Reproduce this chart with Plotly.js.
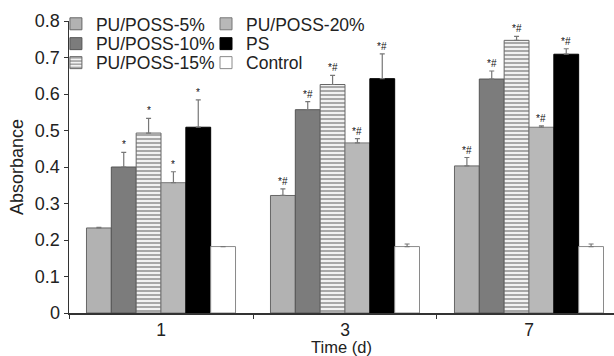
<!DOCTYPE html>
<html><head><meta charset="utf-8">
<script src="https://cdn.plot.ly/plotly-3.0.1.min.js"></script>
<style>html,body{margin:0;padding:0;background:#fff}#chart{width:614px;height:356px}</style>
</head><body><div id="chart"></div>
<script>
const days = ['1', '3', '7'];
const seriesNames = ['PU/POSS-5%', 'PU/POSS-10%', 'PU/POSS-15%', 'PU/POSS-20%', 'PS', 'Control'];
const poss5 = [0.233, 0.322, 0.403];
const poss10 = [0.400, 0.557, 0.641];
const poss15 = [0.493, 0.626, 0.747];
const poss20 = [0.357, 0.466, 0.509];
const ps = [0.509, 0.642, 0.709];
const control = [0.182, 0.182, 0.182];
const err5 = [0.002, 0.018, 0.023];
const err10 = [0.040, 0.022, 0.022];
const err15 = [0.040, 0.025, 0.011];
const err20 = [0.030, 0.012, 0.004];
const errPS = [0.075, 0.068, 0.015];
const errControl = [0, 0.007, 0.007];
const marks5 = ['', '*#', '*#'];
const marks10 = ['*', '*#', '*#'];
const marks15 = ['*', '*#', '*#'];
const marks20 = ['*', '*#', '*#'];
const marksPS = ['*', '*#', '*#'];
const marksControl = ['', '', ''];
const yTicks = [0, 0.1, 0.2, 0.3, 0.4, 0.5, 0.6, 0.7, 0.8];

const values = [poss5, poss10, poss15, poss20, ps, control];
const errors = [err5, err10, err15, err20, errPS, errControl];
const marks = [marks5, marks10, marks15, marks20, marksPS, marksControl];
const styles = [
  {color: '#b4b4b4', pattern: {shape: '.', fgcolor: '#a0a0a0', bgcolor: '#bcbcbc', size: 2, solidity: 0.35}, line: '#666'},
  {color: '#7c7c7c', pattern: null, line: '#555'},
  {color: '#d8d8d8', pattern: {shape: '-', fgcolor: '#a0a0a0', bgcolor: '#f2f2f2', size: 4, solidity: 0.45}, line: '#666'},
  {color: '#bababa', pattern: {shape: '.', fgcolor: '#a6a6a6', bgcolor: '#c2c2c2', size: 2, solidity: 0.35}, line: '#777'},
  {color: '#000000', pattern: null, line: '#000'},
  {color: '#ffffff', pattern: null, line: '#8a8a8a'}
];
// legend cell placement (column, row) for each series
const legendCol = [0, 0, 0, 1, 1, 1];
const legendRow = [0, 1, 2, 0, 1, 2];
const legendColX = [-0.024, 0.2514];
const legendRowY = [0.99, 0.922, 0.857];
const bargap = 0.19;

const traces = seriesNames.map((name, i) => {
  const m = {color: styles[i].color, line: {color: styles[i].line, width: 1}};
  if (styles[i].pattern) m.pattern = styles[i].pattern;
  return {
    type: 'bar', name: name, x: days, y: values[i], marker: m,
    legend: i === 0 ? 'legend' : 'legend' + (i + 1),
    error_y: {type: 'data', symmetric: false, array: errors[i], arrayminus: errors[i].map(() => 0),
              color: '#777', thickness: 1.2, width: 2.5}
  };
});

const n = seriesNames.length;
const bw = (1 - bargap) / n;
const annotations = [];
values.forEach((vals, i) => {
  vals.forEach((v, j) => {
    if (!marks[i][j]) return;
    annotations.push({
      xref: 'x', yref: 'y', x: j - (1 - bargap) / 2 + (i + 0.5) * bw, y: v + errors[i][j],
      text: marks[i][j], showarrow: false, yanchor: 'bottom', yshift: 0,
      font: {family: 'Liberation Sans, Arial, sans-serif', size: 10, color: '#111'}
    });
  });
});

const layout = {
  width: 614, height: 356,
  margin: {l: 69, r: 0, t: 21, b: 43},
  paper_bgcolor: '#fff', plot_bgcolor: '#fff',
  font: {family: 'Liberation Sans, Arial, sans-serif', size: 18, color: '#222'},
  barmode: 'group', bargap: bargap, bargroupgap: 0,
  showlegend: true,
  xaxis: {type: 'category', range: [-0.5, 2.462], showline: true, linecolor: '#333', linewidth: 1.5,
          ticks: 'outside', tickson: 'boundaries', ticklen: 4, tickcolor: '#333', showgrid: false,
          zeroline: false, title: {text: 'Time (d)', standoff: 0, font: {size: 16.5}}, tickfont: {size: 17.5}},
  yaxis: {range: [0, 0.8], tickvals: yTicks, ticktext: yTicks.map(String), showline: true, linecolor: '#333',
          linewidth: 1.5, ticks: 'outside', ticklen: 4, tickcolor: '#333', showgrid: false, zeroline: false,
          title: {text: 'Absorbance', standoff: 6, font: {size: 18}}, tickfont: {size: 18}},
  annotations: annotations
};
seriesNames.forEach((name, i) => {
  const key = i === 0 ? 'legend' : 'legend' + (i + 1);
  layout[key] = {x: legendColX[legendCol[i]], y: legendRowY[legendRow[i]], xanchor: 'left', yanchor: 'middle',
                 orientation: 'v', bgcolor: 'rgba(0,0,0,0)', itemwidth: 30,
                 font: {size: 17.5, color: '#222'}};
});

Plotly.newPlot('chart', traces, layout, {displayModeBar: false, staticPlot: true});
</script></body></html>
